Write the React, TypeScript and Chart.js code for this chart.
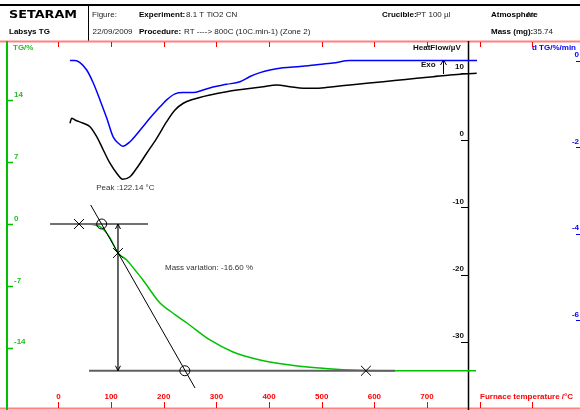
import React, { useEffect, useRef } from 'react';
import { Chart, registerables } from 'chart.js';

Chart.register(...registerables);

// ---- Data ----
// TG curve (%), furnace temperature in °C
const tgTemps = [25, 46.5, 69.3, 82.6, 97.8, 113, 129.6, 145.3, 160.5, 192.8, 211.8, 244.1, 287.8, 331.5, 382.8, 439.8, 496.8, 553.8, 610.8, 793];
const tgValues = [0, 0, -0.11, -0.45, -1.58, -3.28, -4.07, -5.2, -6.33, -8.94, -9.84, -11.2, -13.12, -14.48, -15.38, -15.95, -16.29, -16.52, -16.6, -16.6];

// DTG curve (%/min)
const dtgTemps = [21.8, 31.3, 40.8, 53.6, 66.1, 78.8, 91.6, 104.1, 116.6, 122.1, 135.8, 154.8, 173.8, 192.8, 205.5, 221.3, 236.5, 256.1, 274.5, 293.5, 319.5, 344.8, 363.8, 382.8, 401.7, 426.5, 458.8, 490.5, 521.4, 553.7, 585.5, 795];
const dtgValues = [0, 0, -0.05, -0.22, -0.52, -0.91, -1.33, -1.77, -1.94, -1.98, -1.875, -1.61, -1.33, -1.07, -0.91, -0.77, -0.74, -0.74, -0.68, -0.61, -0.55, -0.49, -0.37, -0.28, -0.22, -0.17, -0.14, -0.1, -0.06, 0, 0, 0];

// Heat flow curve (µV)
const hfTemps = [21.8, 25.1, 31.3, 47.1, 59.8, 72.6, 85.1, 97.8, 110.6, 122.1, 135.8, 148.5, 167.5, 186.5, 205.5, 221.3, 237.1, 256.1, 287.8, 319.5, 351, 389, 414.5, 439.8, 465, 490.5, 522, 553.7, 585.5, 617, 648.7, 680.4, 711.9, 743.6, 794.4];
const hfValues = [2.5, 3.22, 2.97, 2.48, 1.97, 0.49, -1.48, -3.45, -4.94, -5.83, -5.45, -4.2, -1.97, 0.25, 2.72, 4.45, 5.45, 6.04, 6.68, 7.17, 7.52, 7.91, 8.16, 7.91, 7.67, 7.67, 7.91, 8.16, 8.41, 8.65, 8.9, 9.15, 9.39, 9.64, 9.9];

// Mass-variation construction
const upperBaselineTemps = [-16, 170];
const upperBaselineTG = [0, 0];
const lowerBaselineTemps = [58, 639];
const lowerBaselineTG = [-16.6, -16.6];
const tangentTemps = [61.2, 259.4];
const tangentTG = [2.15, -18.55];
const stepTemps = [113, 113];
const stepTG = [0, -16.6];
const crossTemps = [39, 113, 584];
const crossTG = [0, -3.28, -16.6];
const circleTemps = [82, 240];
const circleTG = [0, -16.6];

const peakTemp = 122.14;
const massVariation = -16.6;

// Ticks
const xTicks = [0, 100, 200, 300, 400, 500, 600, 700, 800, 900];
const xTickLabels = ['0', '100', '200', '300', '400', '500', '600', '700'];
const tgTicks = [14, 7, 0, -7, -14];
const hfTicks = [10, 0, -10, -20, -30];
const dtgTicks = [0, -2, -4, -6];

// Scale ranges
const X_MIN = -111.1;
const X_MAX = 990.6;
const TG_MIN = -21.04;
const TG_MAX = 25.34;
const HF_MIN = -40.06;
const HF_MAX = 20.77;
const DTG_MIN = -8.07;
const DTG_MAX = 1.397;

const pts = (xs: number[], ys: number[]) => xs.map((x, i) => ({ x, y: ys[i] }));

const F = '"Liberation Sans", Arial, sans-serif';

function line(ctx: CanvasRenderingContext2D, x1: number, y1: number, x2: number, y2: number) {
  ctx.beginPath();
  ctx.moveTo(x1, y1);
  ctx.lineTo(x2, y2);
  ctx.stroke();
}

function text(ctx: CanvasRenderingContext2D, s: string, x: number, y: number, font: string, color: string, align: CanvasTextAlign = 'left') {
  ctx.font = font;
  ctx.fillStyle = color;
  ctx.textAlign = align;
  ctx.textBaseline = 'middle';
  ctx.fillText(s, x, y);
}

const setaramPlugin = {
  id: 'setaram',
  beforeDatasetsDraw(chart: any) {
    const ctx: CanvasRenderingContext2D = chart.ctx;
    const sx = chart.scales.x;
    const sTG = chart.scales.yTG;
    const sHF = chart.scales.yHF;
    const sD = chart.scales.yDTG;
    ctx.save();
    // header frame
    ctx.strokeStyle = '#000';
    ctx.lineWidth = 2;
    line(ctx, 0, 5, 580, 5);
    ctx.lineWidth = 1;
    line(ctx, 88.5, 5, 88.5, 41);
    // pink frame lines (temperature axis)
    ctx.strokeStyle = '#ff8080';
    ctx.lineWidth = 2;
    line(ctx, 0, 41.5, 580, 41.5);
    line(ctx, 0, 408.5, 580, 408.5);
    ctx.strokeStyle = '#ff0000';
    ctx.lineWidth = 1;
    for (const t of xTicks) {
      const px = Math.round(sx.getPixelForValue(t)) + 0.5;
      line(ctx, px, 42, px, 47);
      line(ctx, px, 402, px, 408);
    }
    // TG axis (left, green)
    ctx.strokeStyle = '#00c000';
    ctx.lineWidth = 2;
    line(ctx, 7, 41, 7, 410);
    ctx.lineWidth = 1.5;
    for (const v of tgTicks) {
      const py = Math.round(sTG.getPixelForValue(v)) + 0.5;
      line(ctx, 7, py, 13, py);
    }
    // Heat flow axis (black)
    ctx.strokeStyle = '#000';
    ctx.lineWidth = 1.5;
    line(ctx, 468.5, 41, 468.5, 410);
    ctx.lineWidth = 1;
    for (const v of hfTicks) {
      const py = Math.round(sHF.getPixelForValue(v)) + 0.5;
      line(ctx, 461, py, 468, py);
    }
    // dTG ticks (blue)
    ctx.strokeStyle = '#0000ff';
    for (const v of dtgTicks) {
      const py = Math.round(sD.getPixelForValue(v)) + 0.5;
      line(ctx, 576, py, 580, py);
    }
    ctx.restore();
  },
  afterDatasetsDraw(chart: any) {
    const ctx: CanvasRenderingContext2D = chart.ctx;
    const sx = chart.scales.x;
    const sTG = chart.scales.yTG;
    const sHF = chart.scales.yHF;
    const sD = chart.scales.yDTG;
    ctx.save();
    const reg = `8px ${F}`;
    const bold = `bold 8px ${F}`;
    // header texts
    ctx.save();
    ctx.translate(9, 15);
    ctx.scale(1.28, 1);
    text(ctx, 'SETARAM', 0, 0, 'bold 10px "DejaVu Sans", sans-serif', '#000');
    ctx.restore();
    text(ctx, 'Labsys TG', 9, 32, bold, '#000');
    text(ctx, 'Figure:', 92, 14.5, reg, '#222');
    text(ctx, 'Experiment:', 139, 14.5, bold, '#000');
    text(ctx, '8.1 T TiO2 CN', 186, 14.5, reg, '#222');
    text(ctx, 'Crucible:', 382, 14.5, bold, '#000');
    text(ctx, 'PT 100 µl', 416, 14.5, reg, '#222');
    text(ctx, 'Atmosphere', 491, 14.5, bold, '#000');
    text(ctx, 'Air', 526, 14.5, reg, '#222');
    text(ctx, '22/09/2009', 92.5, 31.5, reg, '#222');
    text(ctx, 'Procedure:', 139, 31.5, bold, '#000');
    text(ctx, 'RT ----> 800C (10C.min-1) (Zone 2)', 184, 31.5, reg, '#222');
    text(ctx, 'Mass (mg):', 491, 31.5, bold, '#000');
    text(ctx, '35.74', 533, 31.5, reg, '#222');

    // x tick labels
    xTickLabels.forEach((lab, i) => {
      text(ctx, lab, sx.getPixelForValue(xTicks[i]), 397, bold, '#ff0000', 'center');
    });
    text(ctx, 'Furnace temperature /°C', 480, 397, bold, '#ff0000');

    // TG labels
    text(ctx, 'TG/%', 13, 47.5, bold, '#22c022');
    for (const v of tgTicks) {
      text(ctx, String(v), 14, sTG.getPixelForValue(v) - 5.5, bold, '#22c022');
    }
    // HF labels
    text(ctx, 'HeatFlow/µV', 413, 47.5, bold, '#111');
    for (const v of hfTicks) {
      text(ctx, String(v), 464, sHF.getPixelForValue(v) - 6, bold, '#111', 'right');
    }
    text(ctx, 'Exo', 421, 65, bold, '#111');
    ctx.strokeStyle = '#000';
    ctx.lineWidth = 1;
    line(ctx, 443.5, 74, 443.5, 60);
    line(ctx, 440.5, 65, 443.5, 60);
    line(ctx, 446.5, 65, 443.5, 60);
    // dTG labels
    text(ctx, 'd TG/%/min', 532, 47.5, bold, '#0000ff');
    for (const v of dtgTicks) {
      text(ctx, String(v), 579, sD.getPixelForValue(v) - 5.5, bold, '#0000ff', 'right');
    }

    // mass step arrowheads
    const ax = sx.getPixelForValue(stepTemps[0]);
    const aTop = sTG.getPixelForValue(stepTG[0]);
    const aBot = sTG.getPixelForValue(stepTG[1]);
    line(ctx, ax - 2.5, aTop + 5, ax, aTop);
    line(ctx, ax + 2.5, aTop + 5, ax, aTop);
    line(ctx, ax - 2.5, aBot - 5, ax, aBot);
    line(ctx, ax + 2.5, aBot - 5, ax, aBot);

    // annotations
    text(ctx, `Peak :${peakTemp.toFixed(2)} °C`, sx.getPixelForValue(peakTemp + 5), sHF.getPixelForValue(-7.1), reg, '#333', 'center');
    text(ctx, `Mass variation: ${massVariation.toFixed(2)} %`, sx.getPixelForValue(202.3), sTG.getPixelForValue(-5.01), reg, '#333');
    ctx.restore();
  },
};

export default function App() {
  const ref = useRef<HTMLCanvasElement>(null);
  useEffect(() => {
    const canvas = ref.current;
    if (!canvas) return;
    const chart = new Chart(canvas, {
      type: 'line',
      data: {
        datasets: [
          {
            data: pts(crossTemps, crossTG),
            yAxisID: 'yTG',
            showLine: false,
            pointStyle: 'crossRot',
            pointRadius: 7,
            borderColor: '#000',
            borderWidth: 1,
          },
          {
            data: pts(circleTemps, circleTG),
            yAxisID: 'yTG',
            showLine: false,
            pointStyle: 'circle',
            pointRadius: 5,
            backgroundColor: 'rgba(0,0,0,0)',
            borderColor: '#000',
            borderWidth: 1,
          },
          {
            data: pts(tangentTemps, tangentTG),
            yAxisID: 'yTG',
            borderColor: '#000',
            borderWidth: 1,
            pointRadius: 0,
          },
          {
            data: pts(stepTemps, stepTG),
            yAxisID: 'yTG',
            borderColor: '#000',
            borderWidth: 1.2,
            pointRadius: 0,
          },
          {
            data: pts(upperBaselineTemps, upperBaselineTG),
            yAxisID: 'yTG',
            borderColor: '#707070',
            borderWidth: 2,
            pointRadius: 0,
          },
          {
            data: pts(lowerBaselineTemps, lowerBaselineTG),
            yAxisID: 'yTG',
            borderColor: '#606060',
            borderWidth: 2,
            pointRadius: 0,
          },
          {
            data: pts(tgTemps, tgValues),
            yAxisID: 'yTG',
            borderColor: '#00c000',
            borderWidth: 1.5,
            pointRadius: 0,
            cubicInterpolationMode: 'monotone',
          },
          {
            data: pts(hfTemps, hfValues),
            yAxisID: 'yHF',
            borderColor: '#000',
            borderWidth: 1.5,
            pointRadius: 0,
            cubicInterpolationMode: 'monotone',
          },
          {
            data: pts(dtgTemps, dtgValues),
            yAxisID: 'yDTG',
            borderColor: '#0000ff',
            borderWidth: 1.5,
            pointRadius: 0,
            cubicInterpolationMode: 'monotone',
          },
        ],
      },
      options: {
        animation: false,
        responsive: false,
        maintainAspectRatio: false,
        layout: { padding: 0, autoPadding: false },
        events: [],
        plugins: {
          legend: { display: false },
          tooltip: { enabled: false },
          title: { display: false },
        },
        scales: {
          x: { type: 'linear', min: X_MIN, max: X_MAX, display: false },
          yTG: { type: 'linear', min: TG_MIN, max: TG_MAX, display: false },
          yHF: { type: 'linear', min: HF_MIN, max: HF_MAX, display: false },
          yDTG: { type: 'linear', min: DTG_MIN, max: DTG_MAX, display: false },
        },
      } as any,
      plugins: [setaramPlugin],
    });
    return () => chart.destroy();
  }, []);

  return (
    <div style={{ position: 'fixed', left: 0, top: 0, width: 580, height: 410, background: '#fff' }}>
      <canvas ref={ref} width={580} height={410} style={{ display: 'block', width: 580, height: 410 }} />
    </div>
  );
}
